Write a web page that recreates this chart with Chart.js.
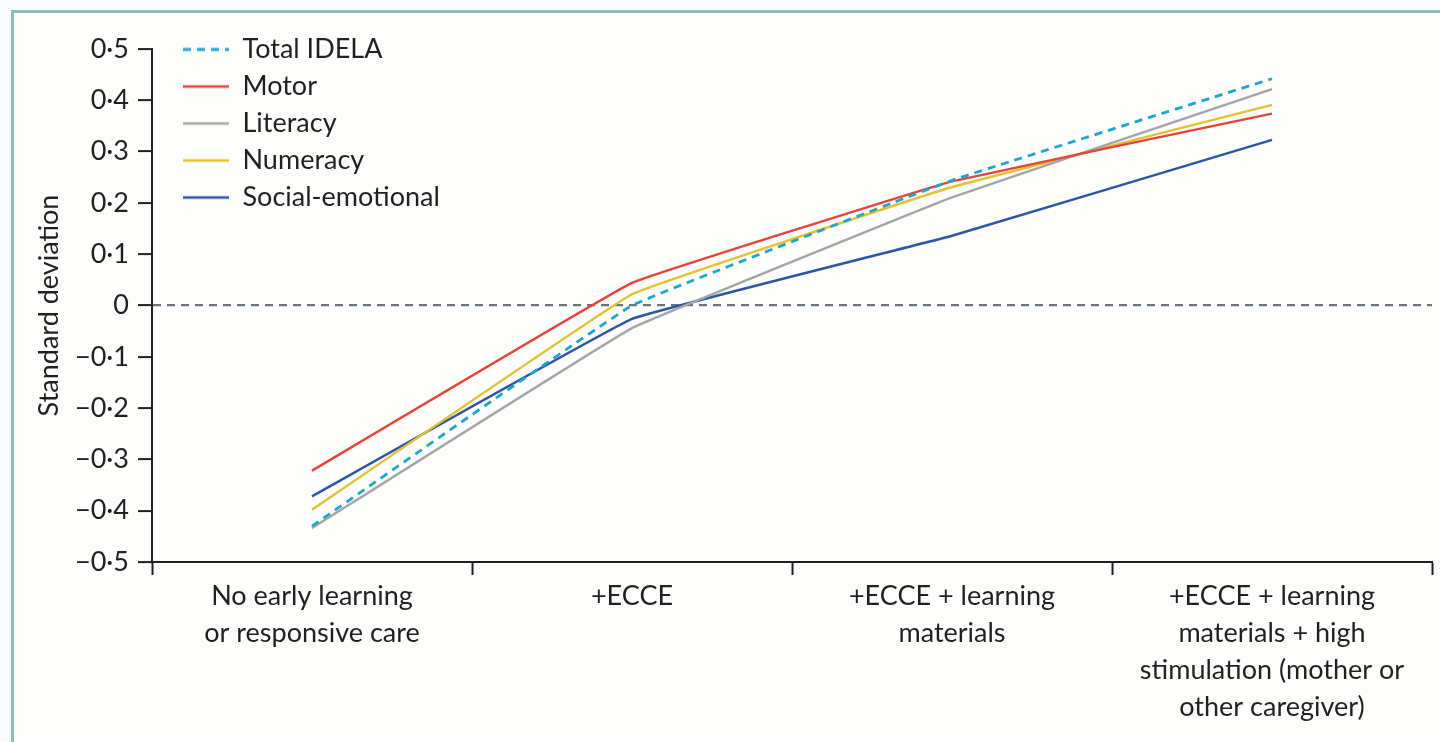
<!DOCTYPE html>
<html>
<head>
<meta charset="utf-8">
<script src="https://cdn.jsdelivr.net/npm/chart.js@4"></script>
<style>
  html, body { margin: 0; padding: 0; background: #f9fafb; overflow: hidden; }
  #frame { position: absolute; left: 11px; top: 10px; width: 1440px; height: 760px;
           border-left: 3px solid #8fbfae; border-top: 3px solid #8fbfae; background: #fdfdfc; }
  #wrap { position: absolute; left: 0; top: 0; width: 1440px; height: 742px; }
</style>
</head>
<body>
<div id="frame"></div>
<div id="wrap"><canvas id="myChart" width="1440" height="742"></canvas></div>
<script>
// categories along the x axis
let categories = [
  ['No early learning', 'or responsive care'],
  ['+ECCE'],
  ['+ECCE + learning', 'materials'],
  ['+ECCE + learning', 'materials + high', 'stimulation (mother or', 'other caregiver)']
];
let seriesNames = ['Total IDELA', 'Motor', 'Literacy', 'Numeracy', 'Social-emotional'];
let totalIdela = [-0.43, 0.0, 0.244, 0.442];
let motor = [-0.322, 0.044, 0.242, 0.374];
let literacy = [-0.434, -0.044, 0.211, 0.422];
let numeracy = [-0.398, 0.022, 0.231, 0.391];
let socialEmotional = [-0.372, -0.026, 0.136, 0.323];
let yTicks = [-0.5, -0.4, -0.3, -0.2, -0.1, 0, 0.1, 0.2, 0.3, 0.4, 0.5];

let font = "Lato, 'Open Sans', sans-serif";

function fmt(v){
  if (Math.abs(v) < 1e-9) return '0';
  let s = Math.abs(v).toFixed(1).replace('.', '\u00B7');
  return v < 0 ? '\u2212' + s : s;
}

// legend swatch as a little line picture, so the dashed one stays dashed
function swatch(color, width, dash){
  let c = document.createElement('canvas');
  c.width = 46; c.height = 6;
  let g = c.getContext('2d');
  g.strokeStyle = color;
  g.lineWidth = width;
  g.setLineDash(dash || []);
  g.beginPath();
  g.moveTo(0, 3);
  g.lineTo(46, 3);
  g.stroke();
  return c;
}

// move the legend a little (it sits over the plot top-left)
let legendShift = {
  id: 'legendShift',
  afterLayout(chart){
    let lg = chart.legend;
    lg.top += 26; lg.bottom += 26;
    lg.left += 21; lg.right += 21;
  }
};

let ctx = document.getElementById('myChart');
let lineChart = new Chart(ctx, {
  type: 'line',
  data: {
    labels: categories,
    datasets: [
      { label: seriesNames[0], data: totalIdela, borderColor: '#1ea6c9', borderDash: [8, 6], borderWidth: 2.8 },
      { label: seriesNames[1], data: motor, borderColor: '#e2453c', borderWidth: 2.4 },
      { label: seriesNames[2], data: literacy, borderColor: '#a3a6a9', borderWidth: 2.4 },
      { label: seriesNames[3], data: numeracy, borderColor: '#e3c232', borderWidth: 2.4 },
      { label: seriesNames[4], data: socialEmotional, borderColor: '#2c56a1', borderWidth: 2.4 }
    ]
  },
  options: {
    responsive: false,
    animation: false,
    devicePixelRatio: 1,
    layout: { padding: { left: 0, right: 8, top: 49, bottom: 0 } },
    elements: { point: { radius: 0 }, line: { tension: 0.06, fill: false } },
    plugins: {
      tooltip: { enabled: false },
      legend: {
        position: 'chartArea',
        align: 'start',
        labels: {
          usePointStyle: true,
          pointStyleWidth: 46,
          color: '#231f20',
          padding: 10,
          font: { family: font, size: 27 },
          generateLabels: (chart) => chart.data.datasets.map((ds, i) => ({
            text: ds.label,
            fillStyle: ds.borderColor,
            strokeStyle: ds.borderColor,
            lineWidth: 0,
            pointStyle: swatch(ds.borderColor, ds.borderWidth, ds.borderDash),
            fontColor: '#231f20',
            hidden: false,
            datasetIndex: i
          }))
        }
      }
    },
    scales: {
      x: {
        offset: true,
        afterFit: (s) => { s.height = 180; },
        grid: { offset: true, color: 'rgba(0,0,0,0)', drawTicks: true, tickLength: 13, tickColor: '#231f20', tickWidth: 2 },
        border: { color: '#231f20', width: 2 },
        ticks: { color: '#231f20', padding: 3, maxRotation: 0, autoSkip: false, font: { family: font, size: 27, lineHeight: 1.37 } }
      },
      y: {
        min: -0.5, max: 0.5,
        afterFit: (s) => { s.width = 152; },
        afterBuildTicks: (s) => { s.ticks = yTicks.map(v => ({ value: v })); },
        grid: {
          color: (c) => (c.tick && c.tick.value === 0 ? '#6b7580' : 'rgba(0,0,0,0)'),
          lineWidth: 2.2,
          tickLength: 14, tickColor: '#231f20', tickWidth: 2
        },
        border: { color: '#231f20', width: 2, dash: [8, 6] },
        ticks: { color: '#231f20', padding: 9, callback: (v) => fmt(v), font: { family: font, size: 27 } },
        title: { display: true, text: 'Standard deviation', color: '#231f20', padding: { top: 33, bottom: 0 }, font: { family: font, size: 27 } }
      }
    }
  },
  plugins: [legendShift]
});
</script>
</body>
</html>
